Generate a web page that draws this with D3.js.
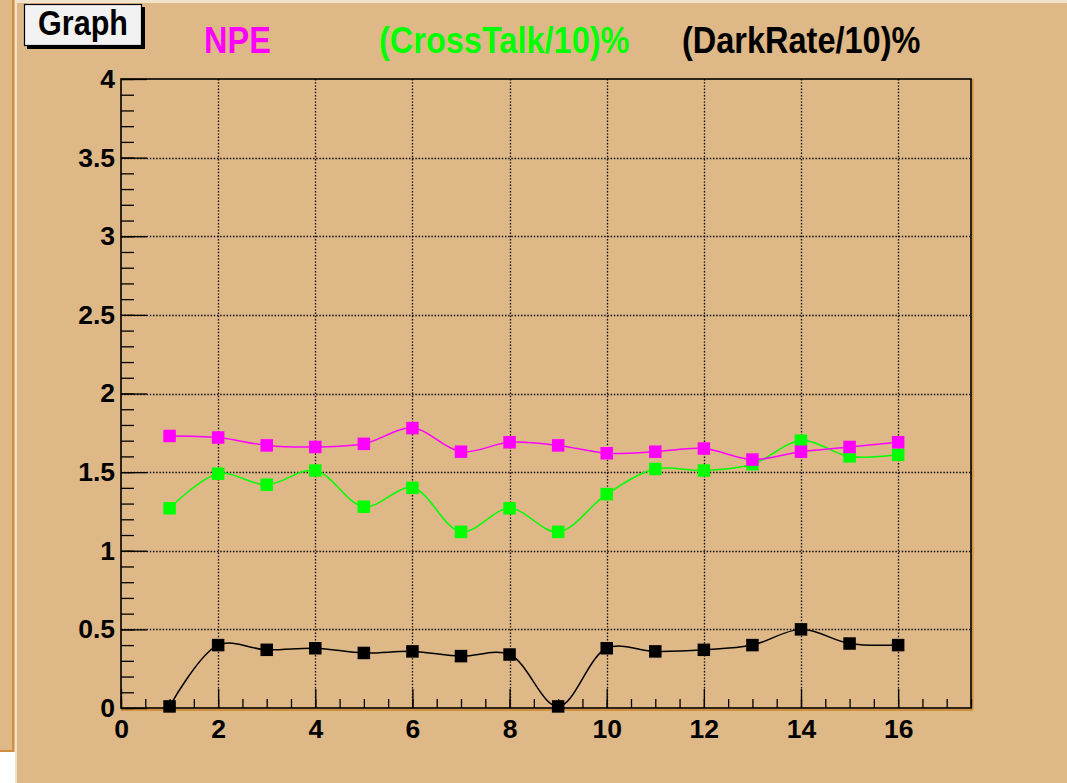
<!DOCTYPE html>
<html>
<head>
<meta charset="utf-8">
<script src="https://cdn.jsdelivr.net/npm/d3@7"></script>
<style>
html,body{margin:0;padding:0;background:#ffffff;}
svg{display:block;}
text{font-family:"Liberation Sans",Arial,Helvetica,sans-serif;font-weight:bold;}
</style>
</head>
<body>
<script>
// ---- data ----
const channels = [1,2,3,4,5,6,7,8,9,10,11,12,13,14,15,16];
const npe       = [1.73,1.72,1.67,1.66,1.68,1.78,1.63,1.69,1.67,1.62,1.63,1.65,1.58,1.63,1.66,1.69];
const crossTalk = [1.27,1.49,1.42,1.51,1.28,1.40,1.12,1.27,1.12,1.36,1.52,1.51,1.55,1.70,1.60,1.61];
const darkRate  = [0.01,0.40,0.37,0.38,0.35,0.36,0.33,0.34,0.01,0.38,0.36,0.37,0.40,0.50,0.41,0.40];
const xTickValues = [0,2,4,6,8,10,12,14,16];
const xTickLabels = ["0","2","4","6","8","10","12","14","16"];
const yTickValues = [0,0.5,1,1.5,2,2.5,3,3.5,4];
const yTickLabels = ["0","0.5","1","1.5","2","2.5","3","3.5","4"];
const seriesNames = ["NPE","(CrossTalk/10)%","(DarkRate/10)%"];
const seriesColors = ["#ff00ff","#00ff00","#000000"];
const title = "Graph";

const W = 1067, H = 783;
const svg = d3.select("body").append("svg").attr("width", W).attr("height", H);

// ---- canvas background (window look) ----
const tan = "#deb887";
svg.append("rect").attr("x",0).attr("y",0).attr("width",15).attr("height",752).attr("fill",tan);
svg.append("rect").attr("x",12).attr("y",0).attr("width",2).attr("height",752).attr("fill","#cf8f3f");
svg.append("rect").attr("x",0).attr("y",750).attr("width",14).attr("height",2).attr("fill","#cf8f3f");
svg.append("rect").attr("x",15).attr("y",0).attr("width",W-15).attr("height",H).attr("fill",tan);
svg.append("rect").attr("x",15).attr("y",0).attr("width",W-15).attr("height",3).attr("fill","#f1e2cc");
svg.append("rect").attr("x",15).attr("y",0).attr("width",2).attr("height",H).attr("fill","#f1e2cc");

// ---- scales ----
const x = d3.scaleLinear().domain([0,17.5]).range([121,971]);
const y = d3.scaleLinear().domain([0,4]).range([708,79]);

// ---- grid ----
const grid = svg.append("g").attr("stroke","#000").attr("stroke-width",1.3).attr("stroke-dasharray","1.4,1.8");
grid.selectAll("line.vx").data(xTickValues.filter(v=>v>0)).enter().append("line")
  .attr("x1",d=>Math.round(x(d))+0.5).attr("x2",d=>Math.round(x(d))+0.5)
  .attr("y1",y(4)).attr("y2",y(0));
grid.selectAll("line.hy").data(yTickValues.filter(v=>v>0&&v<4)).enter().append("line")
  .attr("y1",d=>Math.round(y(d))+0.5).attr("y2",d=>Math.round(y(d))+0.5)
  .attr("x1",x(0)).attr("x2",x(17.5));

// ---- frame ----
svg.append("line").attr("x1",x(0)).attr("x2",x(17.5)+2).attr("y1",y(0)+2).attr("y2",y(0)+2)
  .attr("stroke","#d2913e").attr("stroke-width",2);
svg.append("line").attr("x1",x(17.5)+1.5).attr("x2",x(17.5)+1.5).attr("y1",y(4)).attr("y2",y(0)+2)
  .attr("stroke","#d2913e").attr("stroke-width",2);
svg.append("rect").attr("x",x(0)).attr("y",y(4)).attr("width",x(17.5)-x(0)).attr("height",y(0)-y(4))
  .attr("fill","none").attr("stroke","#000").attr("stroke-width",1.6);

// ---- axes ----
const minorX = d3.range(0,17.5+1e-9,0.5);
const minorY = d3.range(0,4+1e-9,0.1).map(v=>+v.toFixed(2));

const gxMinor = svg.append("g").attr("transform",`translate(0,${y(0)})`)
  .call(d3.axisBottom(x).tickValues(minorX).tickSize(-9).tickFormat(""));
const gx = svg.append("g").attr("transform",`translate(0,${y(0)})`)
  .call(d3.axisBottom(x).tickValues(xTickValues).tickSize(-19).tickPadding(11)
        .tickFormat((d,i)=>xTickLabels[i]));
const gyMinor = svg.append("g").attr("transform",`translate(${x(0)},0)`)
  .call(d3.axisLeft(y).tickValues(minorY).tickSize(-13).tickFormat(""));
const gy = svg.append("g").attr("transform",`translate(${x(0)},0)`)
  .call(d3.axisLeft(y).tickValues(yTickValues).tickSize(-26).tickPadding(6)
        .tickFormat((d,i)=>yTickLabels[i]));
[gx,gy,gxMinor,gyMinor].forEach(g=>{
  g.select(".domain").remove();
  g.selectAll(".tick line").attr("stroke","#000").attr("stroke-width",1.3);
  g.selectAll("text").attr("font-size",26.5).attr("fill","#000")
    .attr("font-family","Liberation Sans, Arial, sans-serif").attr("font-weight","bold");
});

// ---- series ----
const series = [
  {vals: darkRate, color: seriesColors[2]},
  {vals: crossTalk, color: seriesColors[1]},
  {vals: npe, color: seriesColors[0]}
];
const line = d3.line().x(d=>x(d[0])).y(d=>y(d[1])).curve(d3.curveCatmullRom.alpha(0.5));
const ms = 12.5;
series.forEach(s=>{
  const pts = channels.map((c,i)=>[c,s.vals[i]]);
  svg.append("path").datum(pts).attr("d",line).attr("fill","none")
    .attr("stroke",s.color).attr("stroke-width",1.5);
  svg.append("g").selectAll("rect").data(pts).enter().append("rect")
    .attr("x",d=>x(d[0])-ms/2).attr("y",d=>y(d[1])-ms/2)
    .attr("width",ms).attr("height",ms).attr("fill",s.color);
});

// ---- title box ----
svg.append("rect").attr("x",27).attr("y",7).attr("width",118).attr("height",42).attr("fill","#000");
svg.append("rect").attr("x",24.5).attr("y",4.5).attr("width",117).attr("height",41)
  .attr("fill","#f2f2f2").attr("stroke","#000").attr("stroke-width",1.2);
svg.append("text").attr("transform","translate(83,35) scale(1,1.14)")
  .attr("text-anchor","middle").attr("font-size",30.5).attr("fill","#000").text(title);

// ---- legend texts ----
const legendX = [204,379,682];
seriesNames.forEach((n,i)=>{
  svg.append("text").attr("transform",`translate(${legendX[i]},53) scale(1,1.15)`)
    .attr("font-size",32.5).attr("fill",seriesColors[i]).text(n);
});
</script>
</body>
</html>
